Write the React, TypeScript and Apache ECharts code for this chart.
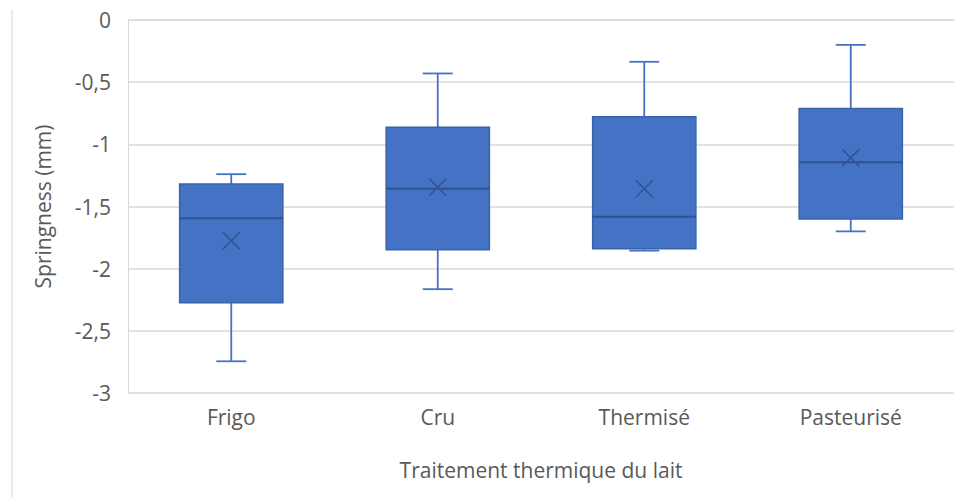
import React, { useEffect, useRef } from "react";
import * as echarts from "echarts";

const categories = ["Frigo", "Cru", "Thermisé", "Pasteurisé"];
const whiskerMin = [-2.745, -2.165, -1.855, -1.7];
const quartile1 = [-2.275, -1.847, -1.839, -1.6];
const medians = [-1.595, -1.357, -1.583, -1.145];
const quartile3 = [-1.32, -0.862, -0.778, -0.712];
const whiskerMax = [-1.24, -0.43, -0.336, -0.2];
const means = [-1.775, -1.345, -1.357, -1.108];
const yTicks = { min: -3, max: 0, interval: 0.5 };

const FONT = "Open Sans";
const TEXT = "#595959";
const GRID = "#d9d9d9";
const FILL = "#4472C4";
const DARK = "#2F528F";
const FS = 21;

export default function App() {
  const ref = useRef<HTMLDivElement>(null);
  useEffect(() => {
    if (!ref.current) return;
    const chart = echarts.init(ref.current, null, { renderer: "svg" });
    const data = categories.map((_, i) => [
      i,
      whiskerMin[i],
      quartile1[i],
      medians[i],
      quartile3[i],
      whiskerMax[i],
      means[i],
    ]);
    chart.setOption({
      animation: false,
      textStyle: { fontFamily: FONT },
      grid: { left: 128, right: 6, top: 20, bottom: 104 },
      graphic: [
        {
          type: "line",
          shape: { x1: 12, y1: 10, x2: 12, y2: 497 },
          style: { stroke: "#e3e3e3", lineWidth: 1.5 },
        },
      ],
      xAxis: {
        type: "category",
        data: categories,
        name: "Traitement thermique du lait",
        nameLocation: "middle",
        nameGap: 66,
        nameTextStyle: { color: TEXT, fontSize: FS, fontFamily: FONT },
        axisLine: { show: true, lineStyle: { color: GRID, width: 1 } },
        axisTick: { show: false },
        axisLabel: { color: TEXT, fontSize: FS, fontFamily: FONT, margin: 13 },
        splitLine: { show: false },
      },
      yAxis: {
        type: "value",
        min: yTicks.min,
        max: yTicks.max,
        interval: yTicks.interval,
        name: "Springness (mm)",
        nameLocation: "middle",
        nameGap: 75,
        nameTextStyle: { color: TEXT, fontSize: FS, fontFamily: FONT },
        axisLine: { show: true, lineStyle: { color: GRID, width: 1 } },
        axisTick: { show: false },
        axisLabel: {
          color: TEXT,
          fontSize: FS,
          fontFamily: FONT,
          margin: 17,
          formatter: (v: number) => String(v).replace(".", ","),
        },
        splitLine: { show: true, lineStyle: { color: GRID, width: 1.5 } },
      },
      series: [
        {
          type: "custom",
          data,
          encode: { x: 0, y: [1, 2, 3, 4, 5, 6] },
          renderItem: (params: any, api: any) => {
            const x = api.value(0);
            const band = api.size([1, 0])[0];
            const boxW = band * 0.5;
            const capW = band * 0.145;
            const pMin = api.coord([x, api.value(1)]);
            const pQ1 = api.coord([x, api.value(2)]);
            const pMed = api.coord([x, api.value(3)]);
            const pQ3 = api.coord([x, api.value(4)]);
            const pMax = api.coord([x, api.value(5)]);
            const pMean = api.coord([x, api.value(6)]);
            const cx = pMed[0];
            const wStyle = { stroke: FILL, lineWidth: 1.8 };
            const m = 8.5;
            return {
              type: "group",
              children: [
                { type: "line", shape: { x1: cx, y1: pMax[1], x2: cx, y2: pQ3[1] }, style: wStyle },
                { type: "line", shape: { x1: cx, y1: pQ1[1], x2: cx, y2: pMin[1] }, style: wStyle },
                { type: "line", shape: { x1: cx - capW / 2, y1: pMax[1], x2: cx + capW / 2, y2: pMax[1] }, style: wStyle },
                { type: "line", shape: { x1: cx - capW / 2, y1: pMin[1], x2: cx + capW / 2, y2: pMin[1] }, style: wStyle },
                {
                  type: "rect",
                  shape: { x: cx - boxW / 2, y: pQ3[1], width: boxW, height: pQ1[1] - pQ3[1] },
                  style: { fill: FILL, stroke: "#3A62A8", lineWidth: 1.5 },
                },
                {
                  type: "line",
                  shape: { x1: cx - boxW / 2, y1: pMed[1], x2: cx + boxW / 2, y2: pMed[1] },
                  style: { stroke: DARK, lineWidth: 2 },
                },
                {
                  type: "line",
                  shape: { x1: pMean[0] - m, y1: pMean[1] - m, x2: pMean[0] + m, y2: pMean[1] + m },
                  style: { stroke: DARK, lineWidth: 1.5 },
                },
                {
                  type: "line",
                  shape: { x1: pMean[0] - m, y1: pMean[1] + m, x2: pMean[0] + m, y2: pMean[1] - m },
                  style: { stroke: DARK, lineWidth: 1.5 },
                },
              ],
            };
          },
        },
      ],
    });
    return () => chart.dispose();
  }, []);
  return (
    <div
      ref={ref}
      style={{ position: "absolute", left: 0, top: 0, width: 960, height: 497, background: "#fff" }}
    />
  );
}
